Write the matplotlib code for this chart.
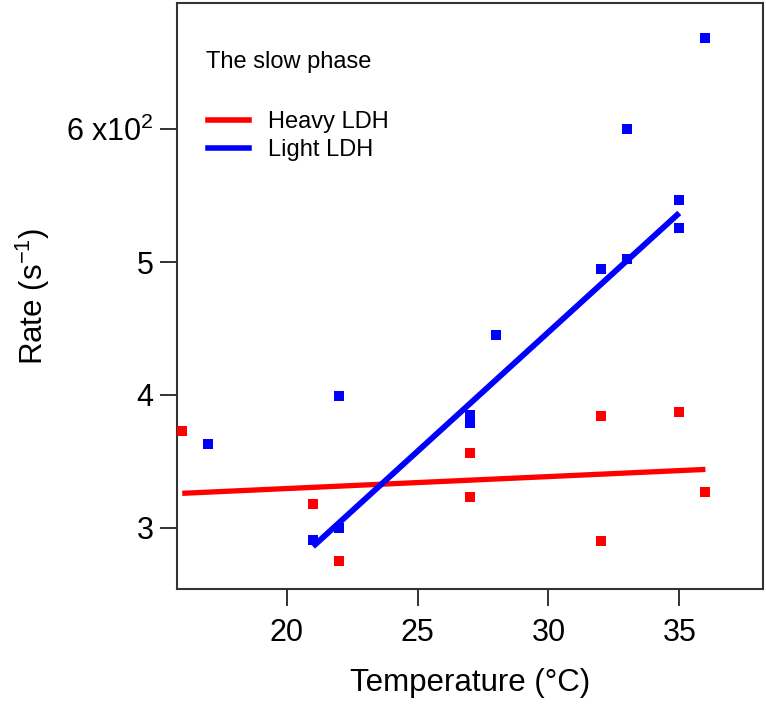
import matplotlib
matplotlib.use("Agg")
import matplotlib.pyplot as plt
from matplotlib.lines import Line2D

plt.rcParams['font.family'] = ['Liberation Sans', 'DejaVu Sans']
plt.rcParams['mathtext.fontset'] = 'custom'
plt.rcParams['mathtext.rm'] = 'Liberation Sans'
plt.rcParams['mathtext.it'] = 'Liberation Sans:italic'

# heavy LDH rates (s^-1)
heavy_t = [16, 21, 22, 27, 27, 32, 32, 35, 36]
heavy_rate = [373, 318, 275, 356, 323, 384, 290, 387, 327]

# light LDH rates (s^-1)
light_t = [17, 21, 22, 22, 27, 27, 28, 32, 33, 33, 35, 35, 36]
light_rate = [363, 291, 300, 399, 385, 379, 445, 495, 502, 600, 547, 526, 669]

# fitted lines, end points
heavy_fit_t = [16, 36]
heavy_fit_rate = [326, 344]
light_fit_t = [21, 35]
light_fit_rate = [286, 537]

yticks = [300, 400, 500, 600]
ytick_labels = ['3', '4', '5', '6 x10$^{2}$']
xticks = [20, 25, 30, 35]

F = plt.figure(figsize=(7.66, 7.04), dpi=100)
ax = F.add_axes([177/766, 115/704, 586/766, 586/704])

ax.plot(heavy_fit_t, heavy_fit_rate, color='#ff0000', lw=3.8, solid_capstyle='butt', zorder=2)
ax.plot(light_fit_t, light_fit_rate, color='#0000ff', lw=4.2, solid_capstyle='butt', zorder=2)
ax.plot(heavy_t, heavy_rate, 's', color='#ff0000', ms=7, mew=0, zorder=3)
ax.plot(light_t, light_rate, 's', color='#0000ff', ms=7, mew=0, zorder=3)

ax.set_xlim(15.8, 38.2)
ax.set_ylim(254, 695)
ax.set_xticks(xticks)
ax.set_yticks(yticks)
ax.set_yticklabels(ytick_labels)
ax.tick_params(direction='out', length=12, width=1.3, labelsize=22, color='#222222')
ax.tick_params(axis='x', pad=9)
ax.tick_params(axis='y', pad=5)

for s in ax.spines.values():
    s.set_linewidth(1.5)
    s.set_color('#333333')

ax.set_xlabel('Temperature (°C)', fontsize=22.5, labelpad=14)
ax.set_ylabel('Rate (s$^{-1}$)', fontsize=22.5, labelpad=10)

ax.text(0.049, 0.899, 'The slow phase', transform=ax.transAxes,
        fontsize=17, va='center', ha='left')

handles = [Line2D([], [], color='#ff0000', lw=4),
           Line2D([], [], color='#0000ff', lw=4)]
ax.legend(handles, ['Heavy LDH', 'Light LDH'], loc='upper left',
          bbox_to_anchor=(31/586, 478/586), frameon=False, fontsize=17,
          borderpad=0, borderaxespad=0, handlelength=1.75, handletextpad=0.8,
          labelspacing=0.25)

F.savefig("out.png")
